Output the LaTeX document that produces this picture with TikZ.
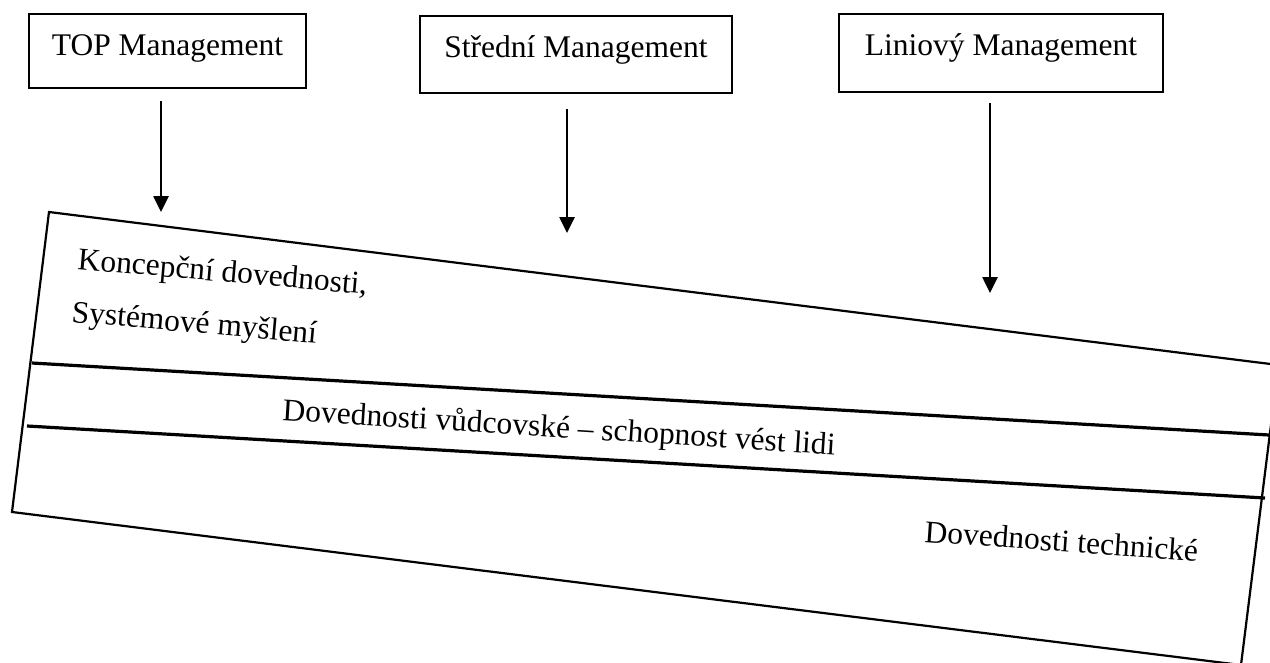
\documentclass[tikz,border=0pt]{standalone}
\usepackage{fontspec}
\setmainfont{Liberation Serif}
\usetikzlibrary{arrows.meta}
\begin{document}
\begin{tikzpicture}[x=1pt,y=-1pt,
  txt/.style={font=\fontsize{31.5}{36}\selectfont,inner sep=0pt},
  mgmt/.style={draw,line width=2pt},
  arr/.style={-{Triangle[length=16pt,width=15pt]},line width=2.6pt},
  band/.style={line width=2.2pt,line join=miter},
  sep/.style={line width=3.2pt},
  lbl/.style={txt,anchor=base west}]
\useasboundingbox (0,0) rectangle (1270,662);

% management levels: boxes and their titles
\draw[mgmt] (29,14) rectangle (306,88);
\node[txt,anchor=base] (top) at (167.5,55) {TOP Management};
\draw[mgmt] (420,16) rectangle (732,93);
\node[txt,anchor=base] (mid) at (576,57) {Střední Management};
\draw[mgmt] (839,14) rectangle (1163,92);
\node[txt,anchor=base] (lin) at (1001,55) {Liniový Management};

% arrows pointing down to the skills band
\coordinate (a1s) at (161,101); \coordinate (a1e) at (161,212);
\coordinate (a2s) at (567,109); \coordinate (a2e) at (567,233);
\coordinate (a3s) at (990,103); \coordinate (a3e) at (990,293);
\draw[arr] (a1s) -- (a1e);
\draw[arr] (a2s) -- (a2e);
\draw[arr] (a3s) -- (a3e);

% tilted band of skills
\coordinate (tl) at (49,212);
\coordinate (tr) at (1278.5,365);
\coordinate (br) at (1241,665);
\coordinate (bl) at (12,512);
\draw[band] (tl) -- (tr) -- (br) -- (bl) -- cycle;
\coordinate (s1l) at (32,363); \coordinate (s1r) at (1269,435);
\coordinate (s2l) at (27,426); \coordinate (s2r) at (1265,498);
\draw[sep] (s1l) -- (s1r);
\draw[sep] (s2l) -- (s2r);

\node[lbl,rotate=-5] (k1) at (77,269) {Koncepční dovednosti,};
\node[lbl,rotate=-5] (k2) at (71,322) {Systémové myšlení};
\node[lbl,rotate=-3.6] (k3) at (282,420) {Dovednosti vůdcovské – schopnost vést lidi};
\node[lbl,rotate=-4] (k4) at (924,542) {Dovednosti technické};
\end{tikzpicture}
\end{document}
